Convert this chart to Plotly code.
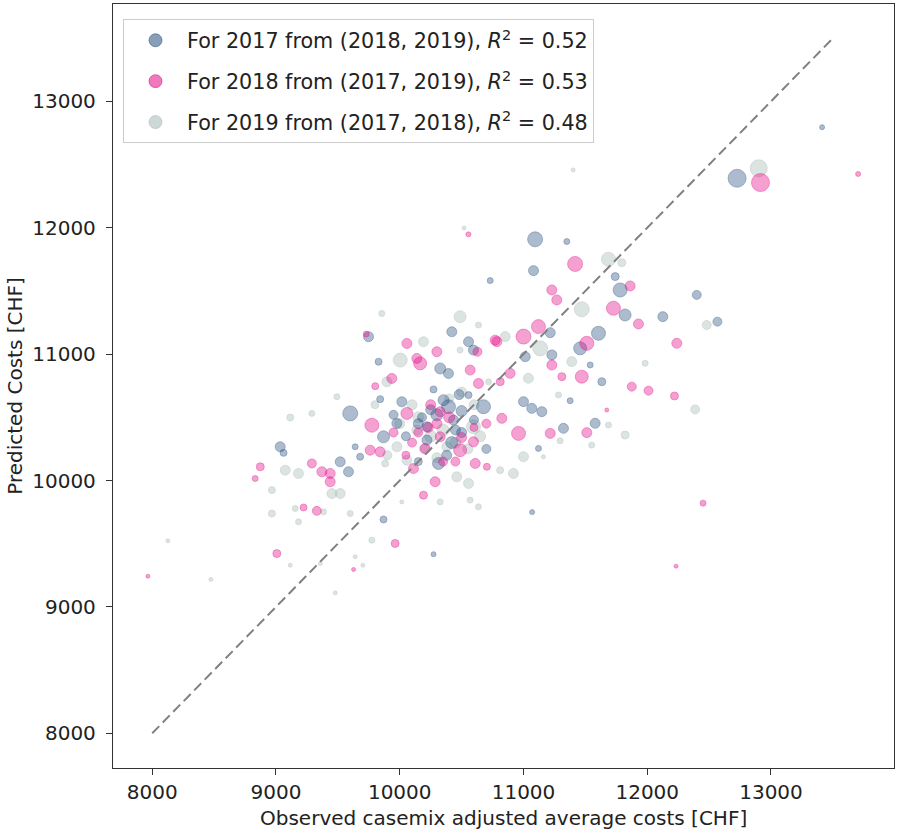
import plotly.graph_objects as go

# ---- data ----
x_2017 = [12726, 13413, 11094, 11350, 11081, 10731, 11741, 11781, 11821, 12126, 12400, 12567,
          11216, 11014, 11229, 11458, 11606, 11539, 11633, 11377, 11000, 11067, 11148, 11579,
          11323, 10421, 9748, 10556, 10596, 9829, 10327, 10394, 10273, 9842, 10017, 9600,
          10354, 10556, 10394, 10677, 9869, 9977, 10219, 10435, 9034, 9061, 9640, 9680,
          9519, 9586, 10313, 9869, 10273, 11070, 11121, 10250, 10420, 10180, 10500,
          10150, 10300, 10450, 10050, 10380, 10500, 10600, 10220, 9950, 10480, 10700, 10150]
y_2017 = [12392, 12796, 11909, 11891, 11661, 11582, 11614, 11508, 11310, 11297, 11469, 11257,
          11170, 10980, 10994, 11046, 11165, 10914, 10782, 10632, 10624, 10571, 10545, 10453,
          10413, 11177, 11138, 11098, 11032, 10940, 10887, 10847, 10721, 10644, 10623, 10531,
          10636, 10676, 10584, 10584, 10346, 10452, 10425, 10478, 10267, 10219, 10267, 10188,
          10148, 10069, 10135, 9692, 9417, 9750, 10254, 10560, 10300, 10500, 10380,
          10450, 10520, 10400, 10350, 10200, 10550, 10480, 10320, 10520, 10680, 10250, 10150]
s_2017 = [18, 5, 15, 6, 10, 6, 8, 14, 12, 10, 9, 9,
          10, 10, 10, 13, 14, 6, 8, 6, 10, 10, 10, 10,
          10, 10, 10, 10, 10, 7, 11, 10, 7, 7, 10, 15,
          11, 7, 14, 14, 12, 10, 10, 10, 10, 7, 6, 7,
          10, 10, 12, 7, 5, 5, 6, 10, 12, 9, 10,
          10, 12, 10, 9, 10, 11, 9, 10, 9, 10, 9, 8]

x_2018 = [12915, 13704, 11417, 11862, 11229, 11269, 11727, 11929, 12239, 11875, 12010, 12220,
          11121, 11000, 10785, 11229, 10892, 10812, 11512, 11310, 11471, 11673, 10825, 11512,
          10960, 11216, 9729, 10058, 10300, 10628, 10771, 10138, 10165, 10569, 9936, 9802,
          10636, 10058, 10327, 9775, 9761, 9842, 10206, 10327, 10488, 10596, 8873, 8832,
          9290, 9371, 9438, 10111, 10610, 10704, 9438, 10286, 10192, 9223, 9330, 9963,
          9007, 10555, 7965, 9627, 12451, 12233, 10300, 10150, 10450,
          10230, 10400, 10100, 10500, 10350, 10600, 9950, 10250, 10700, 10050]
y_2018 = [12358, 12426, 11714, 11540, 11508, 11429, 11363, 11239, 11086, 10743, 10711, 10669,
          11218, 11139, 11099, 10914, 10848, 10782, 11086, 10822, 10822, 10558, 10492, 10379,
          10373, 10373, 11159, 11085, 11019, 11019, 11111, 10966, 10927, 10874, 10808, 10747,
          10768, 10531, 10544, 10438, 10240, 10227, 10254, 10346, 10240, 10306, 10109, 10016,
          10135, 10069, 10056, 10095, 10135, 10109, 9990, 9990, 9884, 9787, 9760, 9502,
          9422, 11948, 9243, 9296, 9821, 9322, 10450, 10380, 10150,
          10420, 10500, 10300, 10340, 10150, 10420, 10380, 10600, 10450, 10200]
s_2018 = [18, 5, 15, 10, 10, 10, 14, 10, 10, 9, 9, 8,
          14, 15, 10, 10, 10, 8, 14, 8, 13, 4, 10, 10,
          14, 10, 6, 10, 10, 9, 10, 10, 13, 10, 10, 7,
          10, 12, 10, 14, 10, 10, 10, 10, 13, 10, 8, 6,
          9, 10, 10, 10, 10, 7, 10, 10, 8, 7, 9, 8,
          8, 5, 4, 4, 6, 4, 10, 9, 9,
          10, 11, 9, 10, 9, 8, 9, 10, 9, 8]

x_2019 = [12901, 11687, 11795, 11471, 12481, 11983, 12387, 10852, 11135, 11040, 11390, 11283,
          11687, 11821, 9855, 10488, 10636, 10192, 10488, 10004, 9896, 10717, 9492, 9115,
          9290, 10138, 10596, 9977, 10381, 9075, 9182, 9882, 10058, 10461, 10556, 9452,
          9519, 8967, 10327, 10569, 10636, 9155, 9384, 8967, 9182, 9600, 10017, 9775,
          8127, 8474, 9115, 9358, 9479, 9702, 9640, 10520, 11401, 10919, 11000, 10811,
          11161, 11551, 11296, 10250, 10600, 10100,
          10150, 10350, 10450, 10000, 10550, 10300, 9900, 10650, 10200, 10500, 9800, 10400]
y_2019 = [12471, 11751, 11724, 11355, 11231, 10928, 10563, 11139, 11046, 10809, 10941, 10677,
          10439, 10360, 11322, 11296, 11230, 11098, 11032, 10953, 10781, 10781, 10663, 10499,
          10531, 10399, 10425, 10267, 10267, 10082, 10056, 10135, 10161, 10029, 9977, 9897,
          9897, 9924, 9831, 9845, 9792, 9779, 9752, 9739, 9673, 9739, 9831, 9528,
          9523, 9217, 9330, 9343, 9111, 9330, 9396, 11999, 12458, 10056, 10188, 10082,
          10188, 10280, 10315, 10350, 10600, 10600,
          10500, 10400, 10300, 10450, 10250, 10180, 10200, 10350, 10250, 10700, 10600, 10650]
s_2019 = [17, 14, 8, 15, 9, 6, 9, 10, 15, 10, 10, 6,
          6, 8, 6, 12, 6, 10, 6, 14, 10, 6, 6, 7,
          6, 10, 14, 10, 10, 10, 10, 7, 10, 10, 10, 10,
          10, 7, 6, 6, 6, 6, 6, 7, 6, 6, 4, 6,
          4, 4, 4, 4, 4, 4, 4, 4, 4, 10, 10, 7,
          4, 6, 6, 12, 10, 10,
          11, 12, 11, 10, 10, 10, 9, 11, 10, 10, 8, 9]

labels = ["For 2017 from (2018, 2019), <i>R</i><sup>2</sup> = 0.52",
          "For 2018 from (2017, 2019), <i>R</i><sup>2</sup> = 0.53",
          "For 2019 from (2017, 2018), <i>R</i><sup>2</sup> = 0.48"]
colors = ["rgba(40,80,125,0.55)", "rgba(227,10,136,0.55)", "rgba(165,185,182,0.55)"]
diag = [8000, 13500]
x_ticks = [8000, 9000, 10000, 11000, 12000, 13000]
y_ticks = [8000, 9000, 10000, 11000, 12000, 13000]
x_ticktext = [str(v) for v in x_ticks]
y_ticktext = [str(v) for v in y_ticks]
x_title = "Observed casemix adjusted average costs [CHF]"
y_title = "Predicted Costs [CHF]"

FONT = "DejaVu Sans"
FS = 20

fig = go.Figure()

# legend entries
for i, lab in enumerate(labels):
    fig.add_trace(go.Scatter(x=[None], y=[None], mode="markers", name=lab,
                             legendgroup=f"g{i}",
                             marker=dict(size=13, color=colors[i],
                                         line=dict(width=1, color=colors[i]))))

series = [(x_2019, y_2019, s_2019, 2), (x_2017, y_2017, s_2017, 0), (x_2018, y_2018, s_2018, 1)]
for xs, ys, ss, ci in series:
    fig.add_trace(go.Scatter(x=xs, y=ys, mode="markers", showlegend=False,
                             hoverinfo="skip",
                             marker=dict(size=ss, color=colors[ci],
                                         line=dict(width=1, color=colors[ci]))))

fig.add_trace(go.Scatter(x=diag, y=diag, mode="lines", showlegend=False,
                         line=dict(color="rgb(128,128,128)", width=2, dash="10px,5px")))

axis_common = dict(showgrid=False, zeroline=False, showline=True, mirror=True,
                   linecolor="#333", linewidth=1.3, ticks="outside", ticklen=6,
                   tickcolor="#333", tickwidth=1.2,
                   tickfont=dict(family=FONT, size=FS, color="#222"))

fig.update_layout(
    width=897, height=831,
    margin=dict(l=113, r=3, t=4, b=63),
    plot_bgcolor="white", paper_bgcolor="white",
    font=dict(family=FONT, size=FS, color="#222"),
    xaxis=dict(range=[7683, 13994], tickvals=x_ticks, ticktext=x_ticktext,
               **axis_common),
    yaxis=dict(range=[7725, 13771], tickvals=y_ticks, ticktext=y_ticktext,
               ticklabelstandoff=6,
               title=dict(text=y_title, font=dict(family=FONT, size=FS), standoff=4),
               **axis_common),
    legend=dict(x=0.0128, y=0.98, xanchor="left", yanchor="top",
                bgcolor="rgba(255,255,255,0.8)", bordercolor="#ccc", borderwidth=1,
                font=dict(family=FONT, size=20.7, color="#222"),
                itemwidth=53, tracegroupgap=11, traceorder="grouped"),
    annotations=[dict(text=x_title, xref="paper", yref="paper", x=0.5, y=0,
                      xanchor="center", yanchor="middle", yshift=-50, showarrow=False,
                      font=dict(family=FONT, size=FS, color="#222"))],
)

fig.write_html("out.html", config={"displayModeBar": False},
               post_script="document.body.style.margin='0';document.body.style.overflow='hidden';")
